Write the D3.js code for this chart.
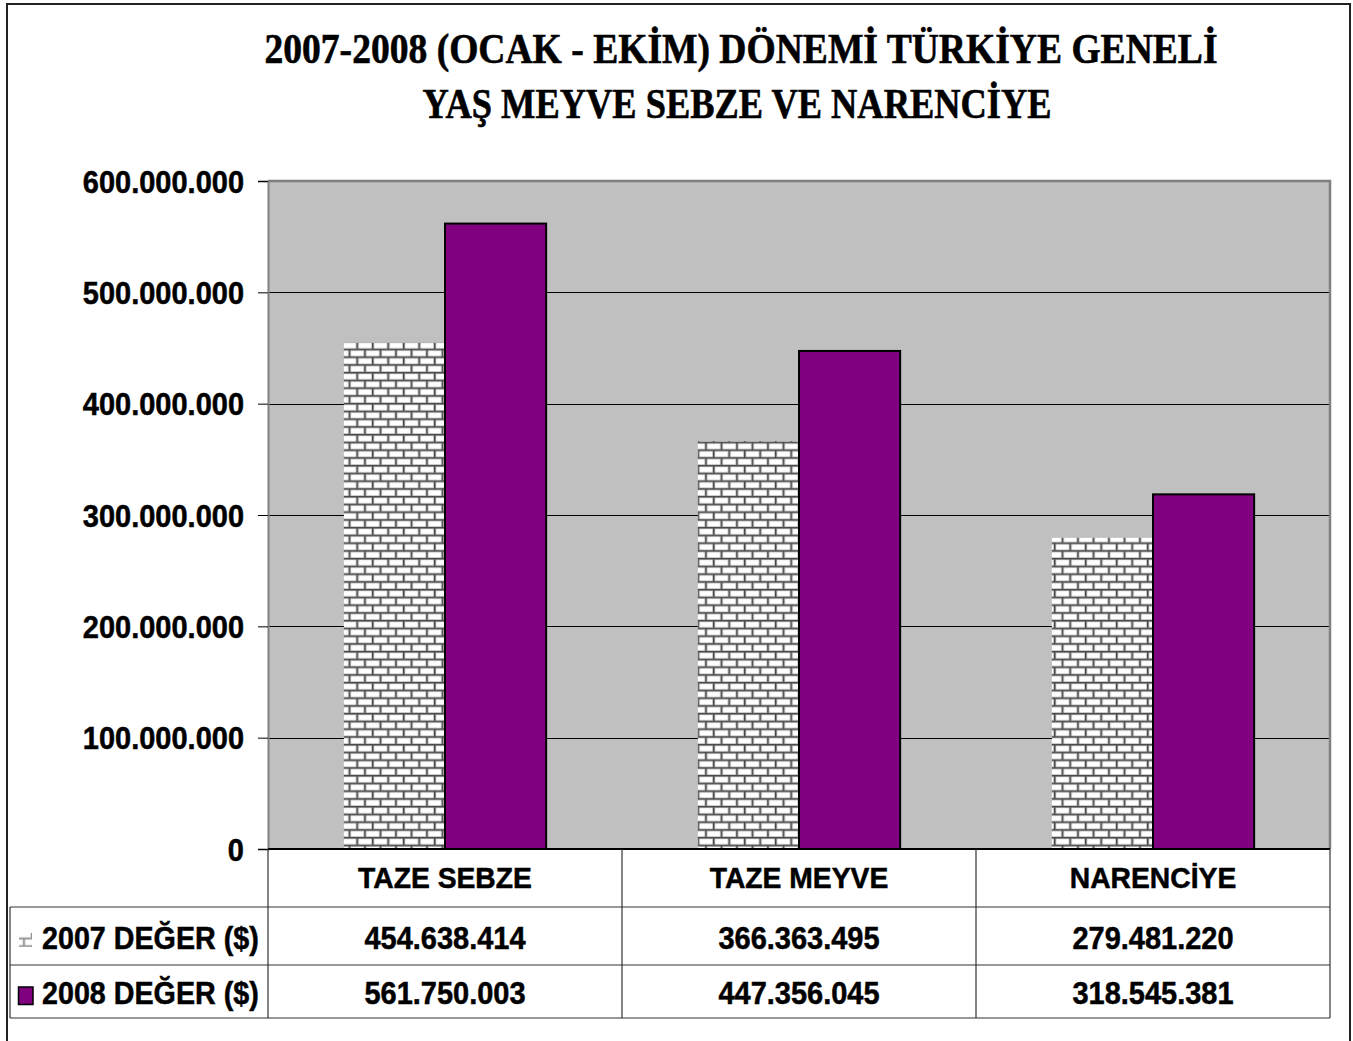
<!DOCTYPE html>
<html>
<head>
<meta charset="utf-8">
<script src="https://cdn.jsdelivr.net/npm/d3@7"></script>
<style>
  html, body { margin: 0; padding: 0; background: #ffffff; }
  svg { display: block; }
</style>
</head>
<body>
<svg id="chart"></svg>
<script>
// Veri
const categories = ['TAZE SEBZE', 'TAZE MEYVE', 'NARENCİYE'];
const seriesNames = ['2007 DEĞER ($)', '2008 DEĞER ($)'];
const values2007 = [454638414, 366363495, 279481220];
const values2008 = [561750003, 447356045, 318545381];
const yTicks = [0, 100000000, 200000000, 300000000, 400000000, 500000000, 600000000];
const titleLines = ['2007-2008 (OCAK - EKİM) DÖNEMİ TÜRKİYE GENELİ', 'YAŞ MEYVE SEBZE VE NARENCİYE'];

const W = 1353, H = 1041;
const plot = { left: 268, right: 1330, top: 181, bottom: 849 };
const rowY = [849, 907, 965, 1018];

const svg = d3.select('#chart').attr('width', W).attr('height', H);

const tr = d3.formatLocale({ decimal: ',', thousands: '.', grouping: [3], currency: ['', '$'] });
const fmt = tr.format(',d');

// Deseni tanımla (tuğla)
const defs = svg.append('defs');
const pat = defs.append('pattern')
    .attr('id', 'brick')
    .attr('patternUnits', 'userSpaceOnUse')
    .attr('width', 15.5).attr('height', 15.5);
pat.append('rect').attr('width', 15.5).attr('height', 15.5).attr('fill', '#4a4a4a');
[[0, 0], [7.75, 7.75], [-7.75, 7.75]].forEach(([bx, by]) => {
    pat.append('rect').attr('x', bx + 1.4).attr('y', by + 1.4)
        .attr('width', 14.1).attr('height', 6.35).attr('fill', '#b0b0b0');
    pat.append('rect').attr('x', bx + 2.2).attr('y', by + 2.1)
        .attr('width', 12.6).attr('height', 5.0).attr('fill', '#ffffff');
});

// Dış çerçeve
svg.append('rect')
    .attr('x', 7).attr('y', 4).attr('width', 1343).attr('height', 1040)
    .attr('fill', '#fff').attr('stroke', '#222').attr('stroke-width', 2);

// Başlık
const title = svg.append('g').attr('font-family', '"Liberation Serif", "Times New Roman", serif')
    .attr('font-weight', 'bold').attr('font-size', 42).attr('fill', '#000')
    .attr('stroke', '#000').attr('stroke-width', 0.6);
title.append('text').attr('x', 741).attr('y', 63).attr('text-anchor', 'middle')
    .attr('textLength', 953).attr('lengthAdjust', 'spacingAndGlyphs').text(titleLines[0]);
title.append('text').attr('x', 737).attr('y', 118).attr('text-anchor', 'middle')
    .attr('textLength', 629).attr('lengthAdjust', 'spacingAndGlyphs').text(titleLines[1]);

// Ölçekler
const x0 = d3.scaleBand().domain(categories).range([plot.left, plot.right]).padding(0);
const x1 = d3.scaleBand().domain(seriesNames).range([0, x0.bandwidth()])
    .paddingInner(0).paddingOuter(0.75);
const y = d3.scaleLinear().domain([0, 600000000]).range([plot.bottom, plot.top]);

// Çizim alanı
svg.append('rect')
    .attr('x', plot.left).attr('y', plot.top)
    .attr('width', plot.right - plot.left).attr('height', plot.bottom - plot.top)
    .attr('fill', '#c0c0c0');

svg.append('g').selectAll('line').data(yTicks.filter(d => d > 0 && d < 600000000)).join('line')
    .attr('x1', plot.left).attr('x2', plot.right)
    .attr('y1', d => Math.round(y(d)) + 0.5).attr('y2', d => Math.round(y(d)) + 0.5)
    .attr('stroke', '#000').attr('stroke-width', 1);

svg.append('path')
    .attr('d', `M${plot.left},${plot.top} H${plot.right} V${plot.bottom}`)
    .attr('fill', 'none').attr('stroke', '#808080').attr('stroke-width', 2.5);

// Çubuklar
const barData = [];
categories.forEach((c, i) => {
    barData.push({ cat: c, s: seriesNames[0], v: values2007[i] });
    barData.push({ cat: c, s: seriesNames[1], v: values2008[i] });
});

svg.append('g').selectAll('rect').data(barData).join('rect')
    .attr('x', d => x0(d.cat) + x1(d.s))
    .attr('y', d => y(d.v))
    .attr('width', x1.bandwidth())
    .attr('height', d => y(0) - y(d.v))
    .attr('fill', d => d.s === seriesNames[0] ? 'url(#brick)' : '#800080')
    .attr('stroke', d => d.s === seriesNames[0] ? 'none' : '#000')
    .attr('stroke-width', 2);

// Y ekseni
const yAxis = svg.append('g').attr('transform', `translate(${plot.left},0)`)
    .call(d3.axisLeft(y).tickValues(yTicks).tickFormat(fmt).tickSize(10).tickPadding(14));
yAxis.select('.domain').attr('stroke', '#808080').attr('stroke-width', 2);
yAxis.selectAll('.tick line').attr('stroke', '#000');

const textStyle = sel => sel
    .attr('font-family', '"Liberation Sans", Arial, sans-serif')
    .attr('font-weight', 'bold').attr('fill', '#000')
    .attr('stroke', '#000').attr('stroke-width', 0.5);

yAxis.selectAll('.tick text').call(textStyle)
    .attr('font-size', 31).attr('dy', '0.36em').attr('data-sq', 0.935);

// Tablo
const tbl = svg.append('g').attr('stroke', '#333').attr('stroke-width', 1.2);
tbl.append('line').attr('x1', plot.left).attr('x2', plot.right).attr('y1', rowY[0]).attr('y2', rowY[0])
    .attr('stroke', '#000').attr('stroke-width', 2);
rowY.slice(1).forEach(ry => {
    tbl.append('line').attr('x1', 10).attr('x2', plot.right).attr('y1', ry).attr('y2', ry);
});
tbl.append('line').attr('x1', 10).attr('x2', 10).attr('y1', rowY[1]).attr('y2', rowY[3]);
[...categories.map(c => x0(c)), plot.right].forEach(vx => {
    tbl.append('line').attr('x1', vx).attr('x2', vx).attr('y1', rowY[0]).attr('y2', rowY[3]);
});

svg.append('g').selectAll('text').data(categories).join('text')
    .call(textStyle).attr('font-size', 29).attr('data-sq', 0.975)
    .attr('x', d => x0(d) + x0.bandwidth() / 2).attr('y', 888)
    .attr('text-anchor', 'middle').text(d => d);

const rows = [values2007, values2008];
const rowBase = [949, 1004];
rows.forEach((vals, r) => {
    svg.append('g').selectAll('text').data(vals).join('text')
        .call(textStyle).attr('font-size', 31).attr('data-sq', 0.935)
        .attr('x', (d, i) => x0(categories[i]) + x0.bandwidth() / 2).attr('y', rowBase[r])
        .attr('text-anchor', 'middle').text(d => fmt(d));
    svg.append('text').call(textStyle).attr('font-size', 31).attr('data-sq', 0.925)
        .attr('x', 42).attr('y', rowBase[r]).text(seriesNames[r]);
});

// Lejant anahtarları
svg.append('rect').attr('x', 19).attr('y', 933).attr('width', 13).attr('height', 14)
    .attr('fill', 'url(#brick)').attr('opacity', 0.6);
svg.append('rect').attr('x', 18.5).attr('y', 987).attr('width', 14.5).attr('height', 17.5)
    .attr('fill', '#800080').attr('stroke', '#000').attr('stroke-width', 1.5);

// Arial bold metinleri biraz daralt
svg.selectAll('text[data-sq]').each(function () {
    const n = this.getComputedTextLength();
    const f = +this.getAttribute('data-sq');
    d3.select(this).attr('textLength', n * f).attr('lengthAdjust', 'spacingAndGlyphs');
});
</script>
</body>
</html>
